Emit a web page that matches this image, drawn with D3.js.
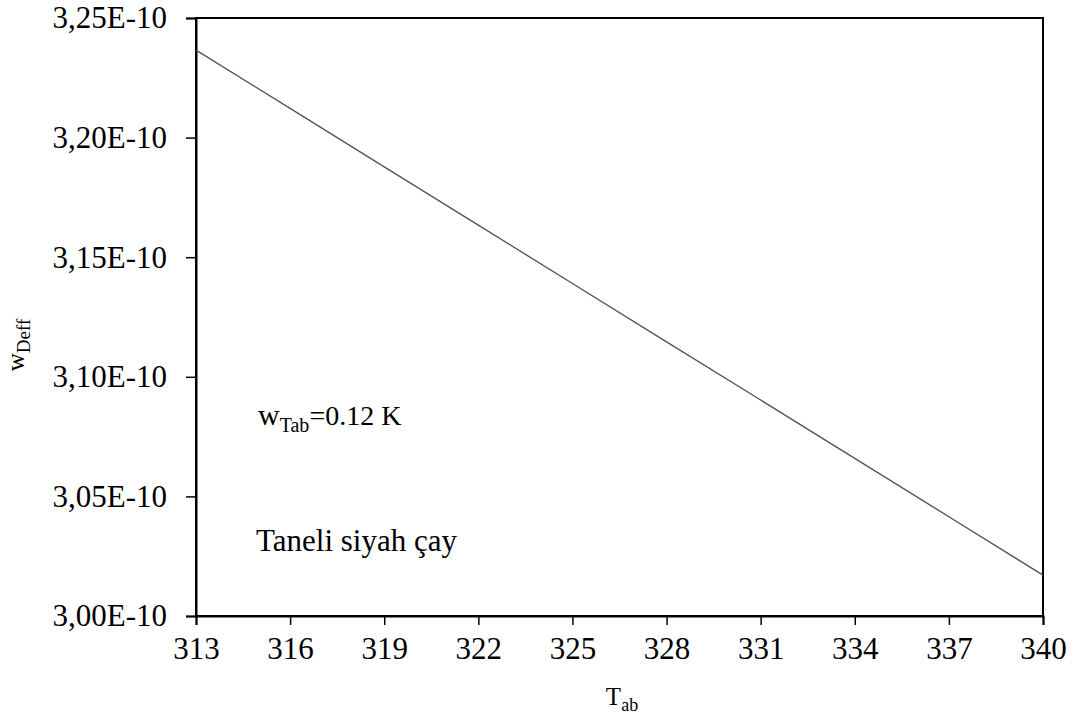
<!DOCTYPE html>
<html>
<head>
<meta charset="utf-8">
<script src="https://cdn.jsdelivr.net/npm/d3@7"></script>
<style>
  body { margin: 0; background: #fff; }
</style>
</head>
<body>
<svg id="chart"></svg>
<script>
// Data (values in units of 1E-10)
const temps = [313, 316, 319, 322, 325, 328, 331, 334, 337, 340];
const wDeff = [3.2366, 3.2122, 3.1878, 3.1634, 3.1390, 3.1146, 3.0903, 3.0659, 3.0415, 3.0171];
const xTicks = [313, 316, 319, 322, 325, 328, 331, 334, 337, 340];
const yTicks = [3.00, 3.05, 3.10, 3.15, 3.20, 3.25];
const yTickLabels = ["3,00E-10", "3,05E-10", "3,10E-10", "3,15E-10", "3,20E-10", "3,25E-10"];

const FONT = "'Liberation Serif', 'Times New Roman', Tinos, 'DejaVu Serif', serif";

const W = 1078, H = 717;
const margin = { top: 18, right: 35, bottom: 101, left: 196 };
const width = W - margin.left - margin.right;
const height = H - margin.top - margin.bottom;

const svg = d3.select("#chart").attr("width", W).attr("height", H);
const g = svg.append("g").attr("transform", `translate(${margin.left},${margin.top})`);

const x = d3.scaleLinear().domain([313, 340]).range([0, width]);
const y = d3.scaleLinear().domain([3.00, 3.25]).range([height, 0]);

// plot frame
g.append("rect")
  .attr("width", width).attr("height", height)
  .attr("fill", "none").attr("stroke", "#000").attr("stroke-width", 2);

// X axis
const xAxis = g.append("g")
  .attr("transform", `translate(0,${height})`)
  .call(d3.axisBottom(x).tickValues(xTicks).tickSize(9).tickPadding(12).tickFormat(d3.format("d")));
xAxis.attr("font-family", null);
xAxis.select(".domain").attr("stroke-width", 2);
xAxis.selectAll(".tick line").attr("stroke-width", 1.5);
xAxis.selectAll(".tick text").style("font-family", FONT).style("font-size", "31px");

// Y axis
const yAxis = g.append("g")
  .call(d3.axisLeft(y).tickValues(yTicks).tickSize(10).tickPadding(19)
    .tickFormat((d, i) => yTickLabels[i]));
yAxis.attr("font-family", null);
yAxis.select(".domain").attr("stroke-width", 2);
yAxis.selectAll(".tick line").attr("stroke-width", 1.5);
yAxis.selectAll(".tick text").style("font-family", FONT).style("font-size", "31px");

// data line
const line = d3.line().x((d, i) => x(temps[i])).y(d => y(d));
g.append("path")
  .datum(wDeff)
  .attr("d", line)
  .attr("fill", "none")
  .attr("stroke", "#555")
  .attr("stroke-width", 1.4);

// annotations
const ann = g.append("text")
  .attr("x", 258 - margin.left)
  .attr("y", 425 - margin.top)
  .style("font-family", FONT)
  .style("font-size", "30px");
ann.append("tspan").text("w");
ann.append("tspan").attr("dy", 7).style("font-size", "20px").text("Tab");
ann.append("tspan").attr("dy", -7).style("font-size", "28px").text("=0.12 K");

g.append("text")
  .attr("x", 256 - margin.left)
  .attr("y", 551 - margin.top)
  .style("font-family", FONT)
  .style("font-size", "31px")
  .text("Taneli siyah çay");

// x axis title
const xt = svg.append("text")
  .attr("x", 622)
  .attr("y", 705)
  .attr("text-anchor", "middle")
  .style("font-family", FONT)
  .style("font-size", "25px");
xt.append("tspan").text("T");
xt.append("tspan").attr("dy", 6).style("font-size", "18px").text("ab");

// y axis title
const yt = svg.append("text")
  .attr("transform", "rotate(-90)")
  .attr("x", -345)
  .attr("y", 24)
  .attr("text-anchor", "middle")
  .style("font-family", FONT)
  .style("font-size", "25px");
yt.append("tspan").text("w");
yt.append("tspan").attr("dy", 6).style("font-size", "19px").text("Deff");
</script>
</body>
</html>
